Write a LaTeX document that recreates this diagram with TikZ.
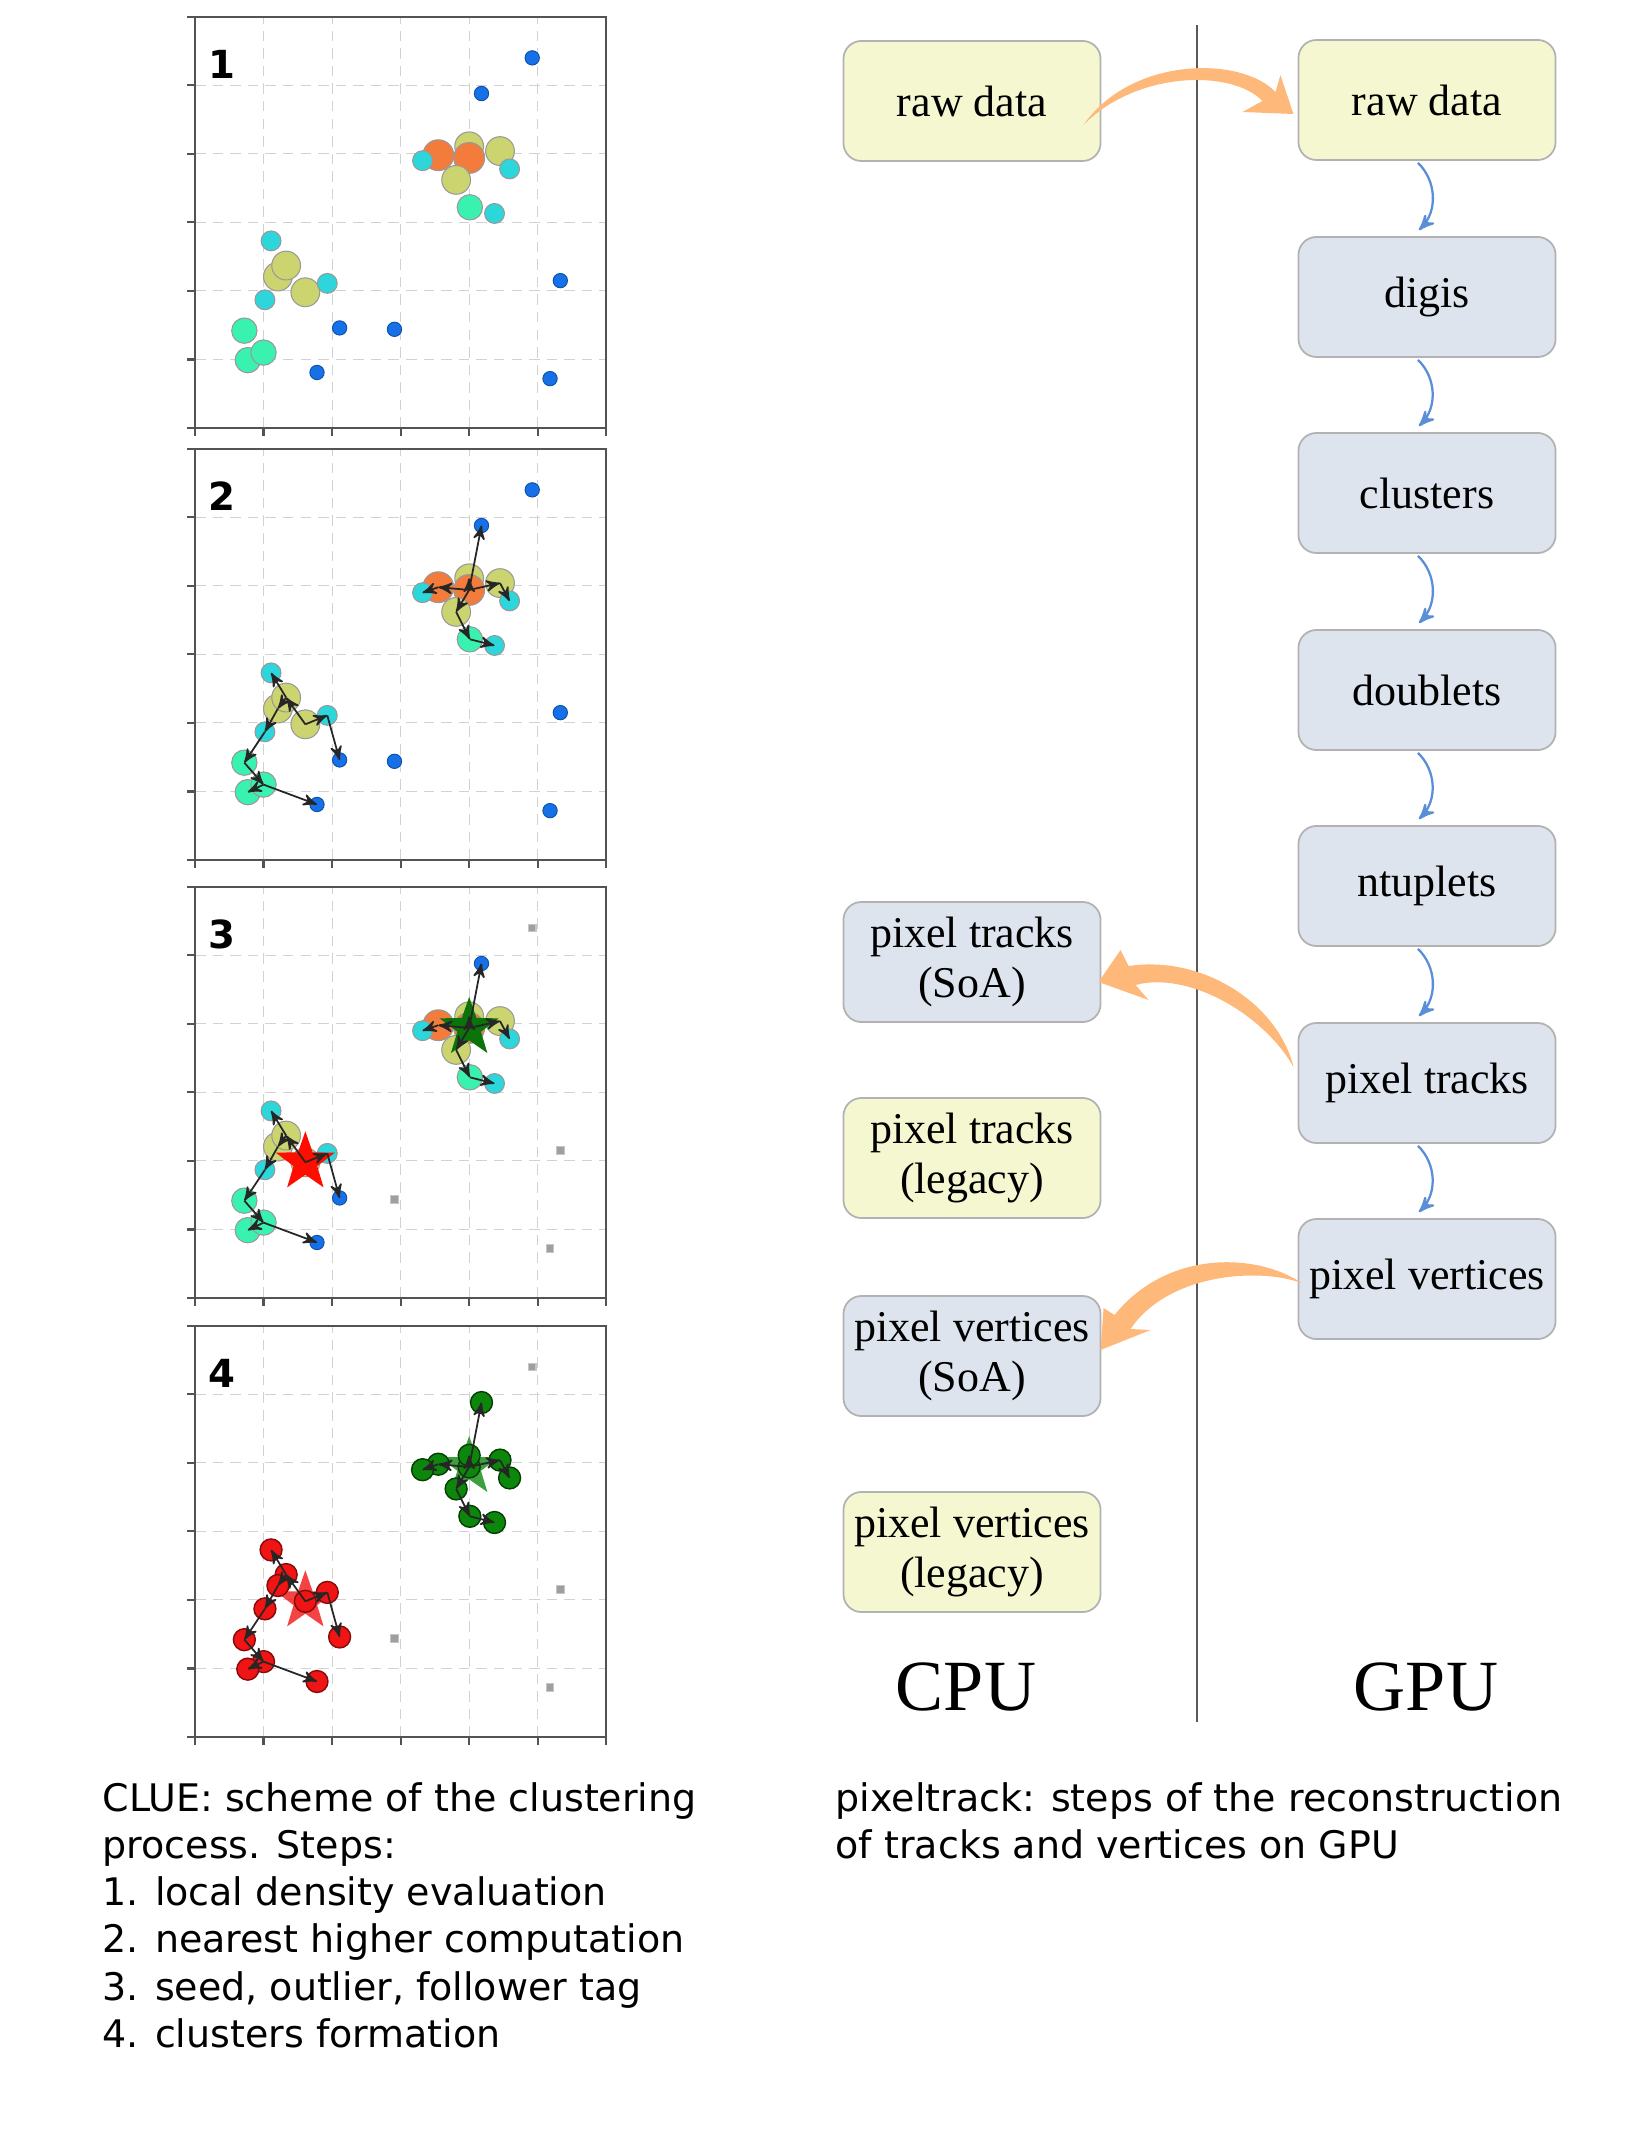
\documentclass[tikz,border=0pt]{standalone}
\usepackage{fontspec}
\newfontfamily\boxfont{Liberation Serif}
\newfontfamily\capfont{DejaVu Sans}
\usetikzlibrary{positioning}
\usetikzlibrary{arrows}
\usetikzlibrary{calc}
\usetikzlibrary{shapes.geometric}

\definecolor{cream}{RGB}{245,247,208}
\definecolor{steel}{RGB}{221,228,238}
\definecolor{swoosh}{RGB}{253,184,122}
\definecolor{flowblue}{RGB}{90,143,216}
\definecolor{ptblue}{RGB}{22,112,232}
\definecolor{ptcyan}{RGB}{44,214,218}
\definecolor{ptmint}{RGB}{58,242,176}
\definecolor{ptolive}{RGB}{204,212,112}
\definecolor{ptorange}{RGB}{243,123,59}
\definecolor{clred}{RGB}{240,20,20}
\definecolor{clgreen}{RGB}{12,135,12}

\tikzset{
    stage/.style={ % boxes of the pixeltrack chain
        rectangle, rounded corners=0.18cm,
        draw=gray!60, line width=0.5pt,
        minimum width=2.57cm, minimum height=1.2cm,
        inner sep=1pt, align=center,
        font=\boxfont\fontsize{12.5}{14.2}\selectfont
    },
    host/.style={stage, fill=cream},
    device/.style={stage, fill=steel},
    flow/.style={->, >=stealth', draw=flowblue, line width=0.65pt, bend left=45},
    gridline/.style={gray!35, densely dashed, line width=0.3pt},
    axisline/.style={gray!65!black, line width=0.6pt},
    link/.style={->, >=stealth', black!85, line width=0.5pt},
    % points coloured by local density
    dens1/.style={fill=ptblue, draw=ptblue!70!black, line width=0.25pt, radius=0.105},
    dens2/.style={fill=ptcyan, draw=black!40, line width=0.3pt, radius=0.145},
    dens3/.style={fill=ptmint, draw=black!40, line width=0.3pt, radius=0.185},
    dens4/.style={fill=ptolive, draw=black!40, line width=0.3pt, radius=0.21},
    dens5/.style={fill=ptorange, draw=black!40, line width=0.3pt, radius=0.225},
    memberA/.style={fill=clgreen, draw=clgreen!45!black, line width=0.4pt, radius=0.16},
    memberB/.style={fill=clred, draw=clred!55!black, line width=0.4pt, radius=0.16},
    outlier/.style={rectangle, fill=gray!75, draw=gray!45, line width=0.3pt, minimum size=0.075cm, inner sep=0pt},
    seedstar/.style={star, star points=5, star point ratio=2.5, minimum size=0.62cm, inner sep=0pt},
    stepnum/.style={font=\capfont\bfseries\fontsize{11}{13}\selectfont, inner sep=0pt},
    notes/.style={anchor=north west, align=left, inner sep=0pt, font=\capfont\fontsize{10.8}{13.4}\selectfont}
}

\newcommand{\cluecoords}{%
    \coordinate (a1) at (3.55,3.98);
    \coordinate (a2) at (4.00,3.94);
    \coordinate (a3) at (4.00,4.11);
    \coordinate (a4) at (4.45,4.04);
    \coordinate (a5) at (3.32,3.90);
    \coordinate (a6) at (4.59,3.78);
    \coordinate (a7) at (3.81,3.62);
    \coordinate (a8) at (4.01,3.22);
    \coordinate (a9) at (4.37,3.13);
    \coordinate (a10) at (4.18,4.88);
    \coordinate (b1) at (1.11,2.73);
    \coordinate (b2) at (1.33,2.37);
    \coordinate (b3) at (1.21,2.21);
    \coordinate (b4) at (1.61,1.98);
    \coordinate (b5) at (1.93,2.11);
    \coordinate (b6) at (1.02,1.87);
    \coordinate (b7) at (2.11,1.46);
    \coordinate (b8) at (0.72,1.42);
    \coordinate (b9) at (1.00,1.10);
    \coordinate (b10) at (0.77,0.99);
    \coordinate (b11) at (1.78,0.81);
    \coordinate (o1) at (4.92,5.40);
    \coordinate (o2) at (5.33,2.15);
    \coordinate (o3) at (5.18,0.72);
    \coordinate (o4) at (2.91,1.44);
}
\newcommand{\cluedots}{%
    \foreach \p/\s in {a3/dens4, a1/dens5, a2/dens5, a4/dens4, a7/dens4, a5/dens2, a6/dens2,
        a8/dens3, a9/dens2, a10/dens1, b3/dens4, b2/dens4, b4/dens4, b1/dens2, b5/dens2,
        b6/dens2, b8/dens3, b10/dens3, b9/dens3, b7/dens1, b11/dens1}
        \draw[\s] (\p) circle[];
}
\newcommand{\farblue}{\foreach \p in {o1,o2,o3,o4} \draw[dens1] (\p) circle[];}
\newcommand{\farsquares}{\foreach \p in {o1,o2,o3,o4} \node[outlier] (sq\p) at (\p) {};}
\newcommand{\cluelinks}{%
    \foreach \f/\t in {a2/a1, a1/a5, a2/a3, a2/a4, a4/a6, a2/a7, a7/a8, a8/a9, a2/a10,
        b4/b2, b2/b1, b2/b3, b3/b6, b6/b8, b8/b9, b9/b10, b9/b11, b4/b5, b5/b7}
        \draw[link] (\f) -- (\t);
}
\newcommand{\cluepanel}[3]{% bottom edge, step number, contents
    \begin{scope}[shift={(195,#1)}, x=0.685cm, y=0.685cm]
        \foreach \g in {1,...,5} {
            \draw[gridline] (\g,0) -- (\g,6);
            \draw[gridline] (0,\g) -- (6,\g);
        }
        \foreach \g in {0,...,6} {
            \draw[axisline] (\g,0) -- (\g,-0.11);
            \draw[axisline] (0,\g) -- (-0.11,\g);
        }
        \draw[axisline] (0,0) rectangle (6,6);
        \cluecoords
        #3
        \node[stepnum] (step#2) at (0.39,5.31) {#2};
    \end{scope}%
}

\begin{document}
\begin{tikzpicture}[x=0.01cm, y=-0.01cm] % one unit = one pixel, y downwards
\useasboundingbox (0,0) rectangle (1640,2140);

% CLUE steps
\cluepanel{428}{1}{\cluedots \farblue}
\cluepanel{860}{2}{\cluedots \farblue \cluelinks}
\cluepanel{1298}{3}{\cluedots \farsquares
    \node[seedstar, fill=red!90!orange] (seedB) at (b4) {};
    \node[seedstar, fill=clgreen!85!black] (seedA) at (a2) {};
    \cluelinks}
\cluepanel{1737}{4}{\farsquares
    \node[seedstar, fill=clred, fill opacity=0.8] (seedB) at (b4) {};
    \node[seedstar, fill=clgreen, fill opacity=0.8] (seedA) at (a2) {};
    \foreach \i in {1,...,10} \draw[memberA] (a\i) circle[];
    \foreach \i in {1,...,11} \draw[memberB] (b\i) circle[];
    \cluelinks}

% pixeltrack chain
\draw[black!65, line width=0.45pt] (1197,25) -- (1197,1722);

\node[host]   (craw)     at (972,101)  {raw data};
\node[device] (csoa)     at (972,962)  {pixel tracks\\(SoA)};
\node[host]   (clegacy)  at (972,1158) {pixel tracks\\(legacy)};
\node[device] (cvsoa)    at (972,1356) {pixel vertices\\(SoA)};
\node[host]   (cvlegacy) at (972,1552) {pixel vertices\\(legacy)};

\node[host]   (graw)      at (1427,100)  {raw data};
\node[device] (gdigis)    at (1427,297)  {digis};
\node[device] (gclusters) at (1427,493)  {clusters};
\node[device] (gdoublets) at (1427,690)  {doublets};
\node[device] (gntuplets) at (1427,886)  {ntuplets};
\node[device] (gtracks)   at (1427,1083) {pixel tracks};
\node[device] (gverts)    at (1427,1279) {pixel vertices};

\node[font=\boxfont\fontsize{20.5}{24}\selectfont] (cpu) at (966,1687) {CPU};
\node[font=\boxfont\fontsize{20.5}{24}\selectfont] (gpu) at (1426,1687) {GPU};

\foreach \a/\b in {graw/gdigis, gdigis/gclusters, gclusters/gdoublets,
    gdoublets/gntuplets, gntuplets/gtracks, gtracks/gverts}
    \draw[flow] ($(\a.south)+(-9,2)$) to ($(\b.north)+(-8,-6)$);

% copies between host and device
\fill[swoosh, shift={(craw.east)}] (-18,24) .. controls (30,-45) and (140,-45) .. (174,-9)
    -- (179,-26) -- (192,13) -- (141,11) -- (161,0)
    .. controls (130,-32) and (35,-30) .. (-18,24) -- cycle;
\fill[swoosh, shift={(gtracks.west)}] (-4,-16) .. controls (-20,-80) and (-95,-128) .. (-169,-117)
    -- (-177,-133) -- (-199,-101) -- (-149,-83) -- (-162,-98)
    .. controls (-110,-112) and (-35,-70) .. (-4,-16) -- cycle;
\fill[swoosh, shift={(gverts.west)}] (4,4) .. controls (-40,-26) and (-130,-30) .. (-183,36)
    -- (-194,29) -- (-197,71) -- (-147,51) -- (-167,50)
    .. controls (-130,-5) and (-40,-12) .. (4,4) -- cycle;

% captions
\node[notes] (cluecap) at (102,1782) {CLUE: scheme of the clustering\\process. Steps:\\1. local density evaluation\\2. nearest higher computation\\3. seed, outlier, follower tag\\4. clusters formation};
\node[notes] (trackcap) at (835,1782) {pixeltrack: steps of the reconstruction\\of tracks and vertices on GPU};
\end{tikzpicture}
\end{document}
